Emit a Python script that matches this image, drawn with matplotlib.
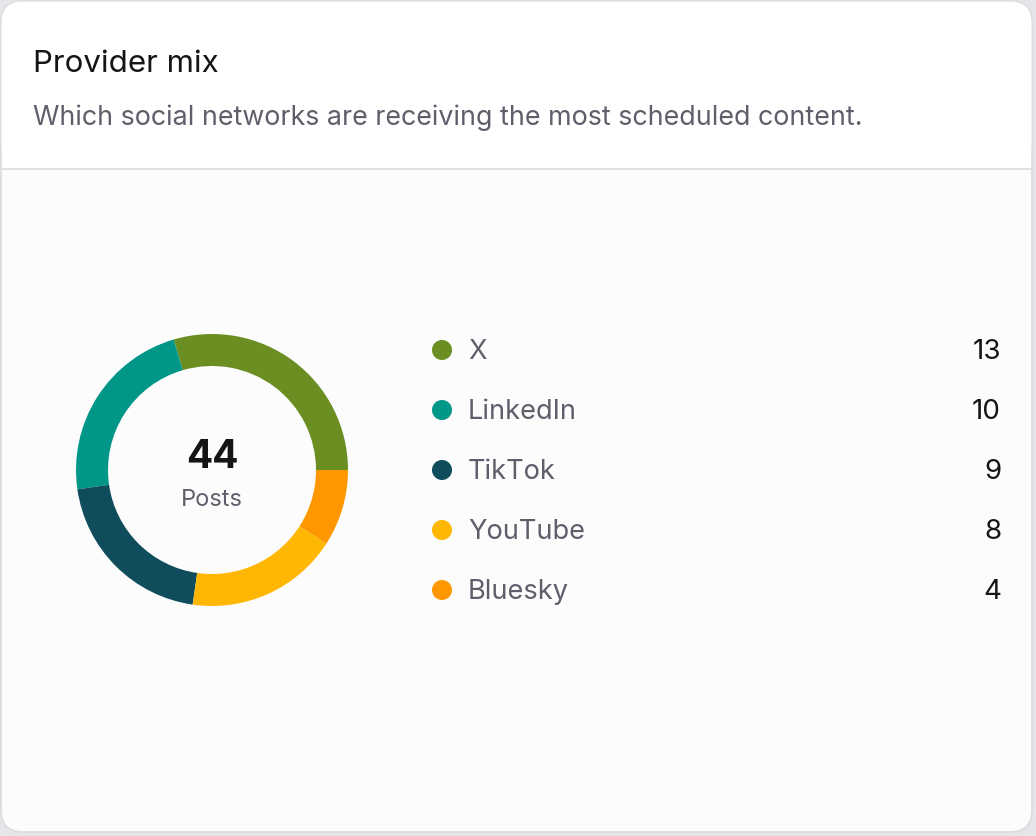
import matplotlib.pyplot as plt
from matplotlib.patches import FancyBboxPatch, Circle

plt.rcParams['font.family'] = ['Inter', 'DejaVu Sans']

# data
providers = ['X', 'LinkedIn', 'TikTok', 'YouTube', 'Bluesky']
posts = [13, 10, 9, 8, 4]
colors = ['#6b8e23', '#009688', '#0f4c5c', '#ffb703', '#ff9800']
total = sum(posts)

W, H = 1036, 836
fig = plt.figure(figsize=(W / 100, H / 100), dpi=100)
fig.patch.set_facecolor('#e6e6ea')

ax = fig.add_axes([0, 0, 1, 1])
ax.set_xlim(0, W)
ax.set_ylim(H, 0)
ax.axis('off')

# card
card = FancyBboxPatch((1, 1), 1031, 831, boxstyle='round,pad=0,rounding_size=22',
                      facecolor='#fcfcfc', edgecolor='#dcdce0', linewidth=1.2)
ax.add_patch(card)
header = FancyBboxPatch((1.6, 1.6), 1029.8, 166.4, boxstyle='round,pad=0,rounding_size=21',
                        facecolor='white', edgecolor='none')
ax.add_patch(header)
ax.fill_between([2, 1031], 120, 168, color='white', lw=0)
ax.plot([1.5, 1031.5], [169, 169], color='#dcdce0', lw=1.2)

ax.text(33, 64, 'Provider mix', fontsize=22.5, color='#151515', va='center', ha='left')
ax.text(33, 118, 'Which social networks are receiving the most scheduled content.',
        fontsize=19.3, color='#5f5f6b', va='center', ha='left')

# donut
cx, cy, r = 212, 470, 136
axp = fig.add_axes([(cx - r) / W, (H - cy - r) / H, 2 * r / W, 2 * r / H])
axp.pie(posts, colors=colors, startangle=0, counterclock=True, radius=1,
        wedgeprops=dict(width=32 / 136, edgecolor='none'))
axp.set_xlim(-1, 1)
axp.set_ylim(-1, 1)
axp.axis('off')

ax.text(cx, 458, str(total), fontsize=28, fontweight='bold', color='#151515',
        ha='center', va='center')
ax.text(cx, 500, 'Posts', fontsize=17, color='#5f5f6b', ha='center', va='center')

# legend rows
for i, (name, val, col) in enumerate(zip(providers, posts, colors)):
    y = 350 + 60 * i
    ax.add_patch(Circle((442, y), 10, facecolor=col, edgecolor='none'))
    ax.text(468, y + 2, name, fontsize=19.6, color='#5f5f6b', va='center', ha='left')
    ax.text(1001, y + 2, str(val), fontsize=20, color='#151515', va='center', ha='right')

fig.savefig('out.png', dpi=100, facecolor=fig.get_facecolor())
